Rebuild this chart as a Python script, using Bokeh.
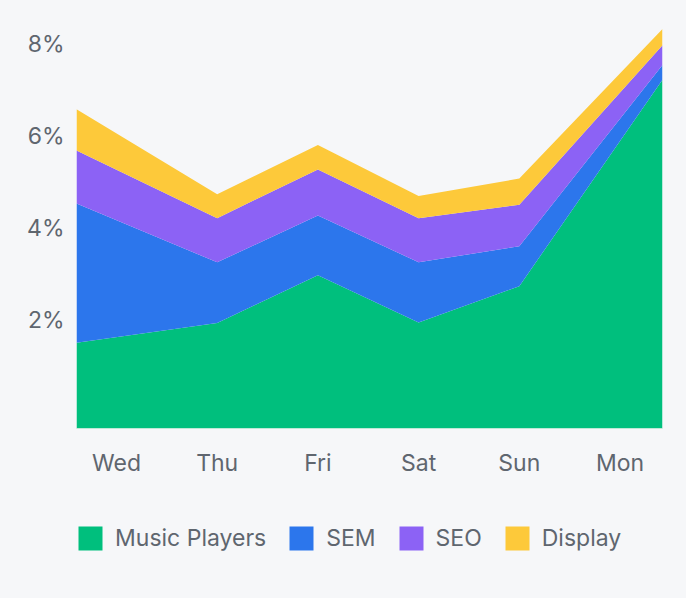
import numpy as np
from bokeh.plotting import figure
from bokeh.layouts import column
from bokeh.models import Range1d, FixedTicker, Legend, LegendItem
from bokeh.embed import file_html
from bokeh.resources import INLINE

# ---- data ----
days = ["Wed", "Thu", "Fri", "Sat", "Sun", "Mon"]
music_players = [1.50, 1.93, 2.97, 1.94, 2.73, 7.22]
sem = [3.03, 1.32, 1.30, 1.31, 0.87, 0.32]
seo = [1.15, 0.96, 1.00, 0.96, 0.90, 0.43]
display = [0.90, 0.52, 0.53, 0.48, 0.57, 0.35]
series_names = ["Music Players", "SEM", "SEO", "Display"]
y_ticks = [2, 4, 6, 8]
y_tick_labels = ["2%", "4%", "6%", "8%"]

# ---- style ----
colors = ["#00bf7d", "#2c76ec", "#8c62f5", "#fdc93a"]
bg = "#f6f7f9"
text_color = "#5f666f"
font = "Inter"
X_MIN, X_MAX = -0.397, 5.422
Y_MIN, Y_MAX = -0.363, 8.507

p = figure(width=686, height=490, output_backend="svg", toolbar_location=None,
           x_range=Range1d(X_MIN, X_MAX), y_range=Range1d(Y_MIN, Y_MAX),
           min_border_left=76, min_border_right=24, min_border_top=20,
           min_border_bottom=62)
p.background_fill_color = bg
p.border_fill_color = bg
p.outline_line_color = None
p.grid.visible = False

# area x positions: category index, first/last stretched to the plot edges
xs = list(range(len(days)))
xs[0] = X_MIN
xs[-1] = X_MAX

stack = np.vstack([music_players, sem, seo, display])
tops = np.cumsum(stack, axis=0)
bottoms = [np.full(len(days), Y_MIN)] + [tops[i - 1] for i in range(1, len(series_names))]
for i, name in enumerate(series_names):
    p.varea(x=xs, y1=bottoms[i], y2=tops[i], fill_color=colors[i])

# axes
p.xaxis.ticker = FixedTicker(ticks=list(range(len(days))))
p.xaxis.major_label_overrides = {i: d for i, d in enumerate(days)}
p.yaxis.ticker = FixedTicker(ticks=y_ticks)
p.yaxis.major_label_overrides = {t: l for t, l in zip(y_ticks, y_tick_labels)}
for ax in (p.xaxis, p.yaxis):
    ax.major_tick_line_color = None
    ax.minor_tick_line_color = None
    ax.major_label_text_font = font
    ax.major_label_text_font_size = "23px"
    ax.major_label_text_color = text_color
p.yaxis.axis_line_color = None
p.yaxis.major_label_standoff = 6
p.xaxis.axis_line_color = "#bfe8d6"
p.xaxis.axis_line_width = 1
p.xaxis.major_label_standoff = 14

# ---- legend strip below the chart ----
# the same series are drawn here, but outside the visible x range,
# so only their legend swatches appear
lg = figure(width=686, height=108, output_backend="svg", toolbar_location=None,
            x_range=Range1d(X_MAX + 10, X_MAX + 11), y_range=Range1d(0, 1),
            min_border_left=0, min_border_right=0, min_border_top=0,
            min_border_bottom=0)
lg.background_fill_color = bg
lg.border_fill_color = bg
lg.outline_line_color = None
lg.grid.visible = False
lg.axis.visible = False
swatches = [lg.varea(x=xs, y1=bottoms[i], y2=tops[i], fill_color=colors[i])
            for i in range(len(series_names))]

legend = Legend(items=[LegendItem(label=n, renderers=[r]) for n, r in zip(series_names, swatches)],
                orientation="horizontal", location=(-1, 45),
                glyph_width=30, glyph_height=30, label_standoff=10, spacing=20,
                padding=0, margin=0,
                label_text_font=font, label_text_font_size="23px",
                label_text_color=text_color,
                border_line_color=None, background_fill_alpha=0)
lg.add_layout(legend, "center")

layout = column(p, lg, spacing=0, styles={"background-color": bg})
open("out.html", "w").write(file_html(layout, INLINE))
